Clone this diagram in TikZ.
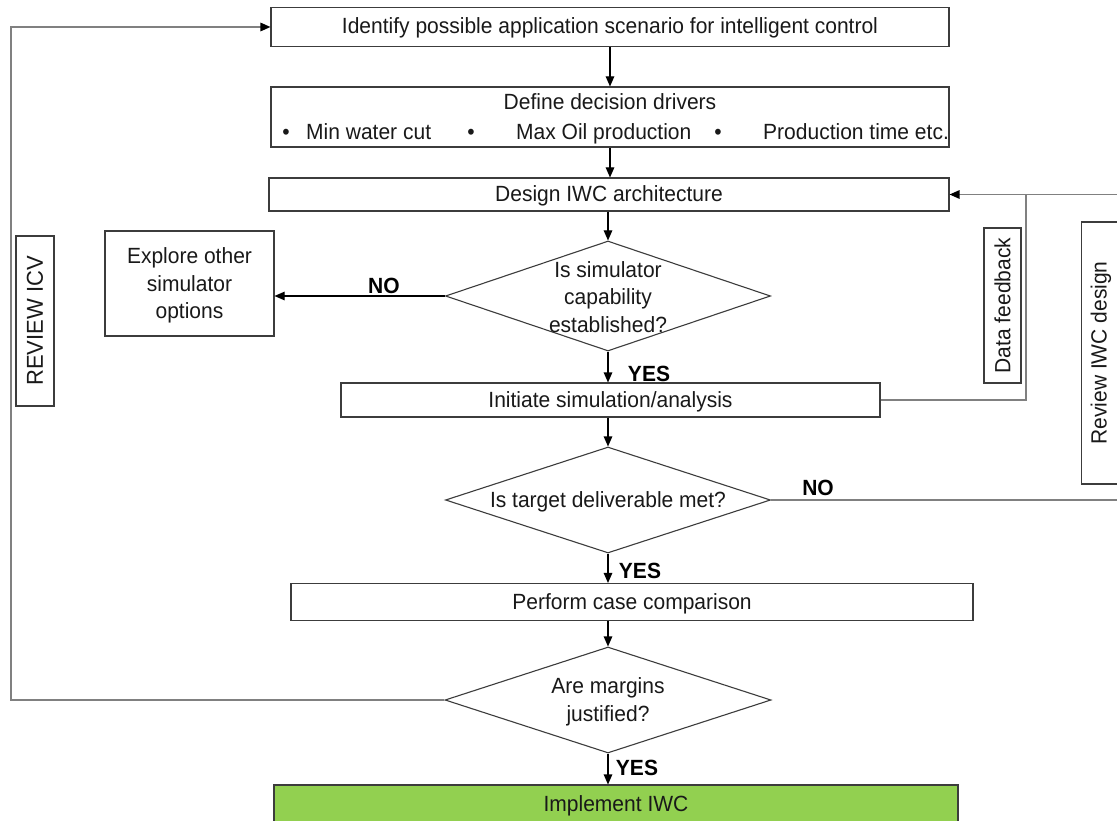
\documentclass[tikz,border=0pt]{standalone}
\usepackage{fontspec}
\setmainfont{Liberation Sans}[FakeStretch=0.955]
\usetikzlibrary{arrows.meta,shapes.geometric}
\definecolor{boxc}{RGB}{60,60,60}
\definecolor{fbc}{RGB}{128,128,128}
\definecolor{txtc}{RGB}{25,25,25}
\definecolor{iwcgreen}{RGB}{146,208,80}
\newcommand\fs{\fontsize{22}{27.5}\selectfont}
\begin{document}
\begin{tikzpicture}[x=1pt,y=-1pt,
  box/.style={draw=boxc, line width=1.1pt, rectangle, inner sep=0pt, font=\fs, text=txtc, align=center},
  one/.style={text height=14pt, text depth=0pt},
  dia/.style={draw=boxc, line width=1.1pt, diamond, inner sep=0pt},
  dtext/.style={font=\fs, text=txtc, align=center, inner sep=0pt},
  txt/.style={font=\fs, text=txtc, inner sep=0pt},
  lbl/.style={font=\fs\bfseries, text=black, inner sep=0pt},
  arr/.style={draw=black, line width=1.1pt, -{Triangle[length=10pt,width=8.5pt]}},
  fb/.style={draw=fbc, line width=1.5pt},
  fbarr/.style={draw=fbc, line width=1.5pt, -{Triangle[length=10pt,width=8.5pt,color=black,fill=black]}}
]
\clip (0,0) rectangle (1117,821);
\fill[white] (0,0) rectangle (1117,821);

% main chain
\node[box, one, minimum width=678pt, minimum height=39pt] (b1) at (610,27) {Identify possible application scenario for intelligent control};
\node[box, minimum width=678pt, minimum height=60pt] (b2) at (610,117) {};
\node[txt, anchor=base] (b2t) at (610,110) {Define decision drivers};
\node[txt, anchor=base] (bu1) at (286,140) {•};
\node[txt, anchor=base west] (bt1) at (306,140) {Min water cut};
\node[txt, anchor=base] (bu2) at (471,140) {•};
\node[txt, anchor=base west] (bt2) at (516,140) {Max Oil production};
\node[txt, anchor=base] (bu3) at (718,140) {•};
\node[txt, anchor=base west] (bt3) at (763,140) {Production time etc.};

\node[box, one, minimum width=680pt, minimum height=33pt] (b3) at (609,194.5) {Design IWC architecture};
\node[dia, minimum width=325pt, minimum height=110pt] (d1) at (608,296) {};
\node[dtext] (d1t) at (608,297) {Is simulator\\capability\\established?};
\node[box, minimum width=169pt, minimum height=105pt] (ex) at (189.5,283.5) {};
\node[dtext] (ext) at (189.5,285.5) {Explore other\\simulator\\options};
\node[box, one, minimum width=539pt, minimum height=34pt] (b4) at (610.5,400) {Initiate simulation/analysis};
\node[dia, minimum width=325pt, minimum height=106pt] (d2) at (608,500) {};
\node[dtext, one] (d2t) at (608,500) {Is target deliverable met?};
\node[box, one, minimum width=682pt, minimum height=37pt] (b5) at (632,602) {Perform case comparison};
\node[dia, minimum width=326pt, minimum height=106pt] (d3) at (608,700) {};
\node[dtext] (d3t) at (608,702) {Are margins\\justified?};
\node[box, one, fill=iwcgreen, minimum width=684pt, minimum height=38pt] (b6) at (616,804) {Implement IWC};

% side labels
\node[box, rotate=90, minimum width=155pt, minimum height=37pt] (df) at (1002.5,305.5) {Data feedback};
\node[box, rotate=90, minimum width=262pt, minimum height=39pt] (rv) at (1101,353) {Review IWC design};
\node[box, rotate=90, minimum width=170pt, minimum height=38pt, font=\fontsize{23}{27}\selectfont] (ri) at (35,321) {REVIEW ICV};

% arrows
\draw[arr] (b1.south) -- (b2.north);
\draw[arr] (b2.south) -- (b2.south |- b3.north);
\draw[arr] (b3.south -| d1.north) -- (d1.north);
\draw[arr] (d1.west) -- (d1.west -| ex.east);
\node[lbl] (no1) at (384,286) {NO};
\draw[arr] (d1.south) -- (d1.south |- b4.north);
\node[lbl] (yes1) at (649,374) {YES};
\draw[arr] (b4.south -| d2.north) -- (d2.north);
\draw[arr] (d2.south) -- (d2.south |- b5.north);
\node[lbl] (yes2) at (640,571) {YES};
\draw[arr] (b5.south -| d3.north) -- (d3.north);
\draw[arr] (d3.south) -- (d3.south |- b6.north);
\node[lbl] (yes3) at (637,768) {YES};

% feedback loops
\coordinate (lc) at (11,700);
\draw[fbarr] (d3.west) -- (lc) |- (b1.west);
\coordinate (fbj) at (1026,194.5);
\draw[fb] (b4.east) -| (fbj);
\coordinate (rc) at (1160,500);
\draw[fbarr] (d2.east) -- (rc) |- (b3.east);
\node[lbl] (no2) at (818,488) {NO};
\end{tikzpicture}
\end{document}
